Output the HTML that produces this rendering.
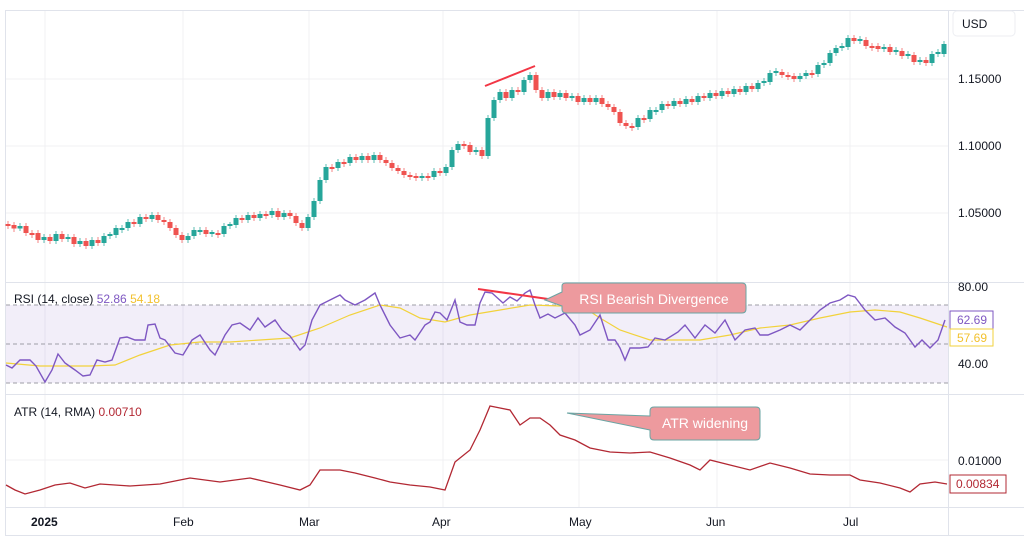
<!DOCTYPE html>
<html><head><meta charset="utf-8"><style>
html,body{margin:0;padding:0;background:#fff;width:1024px;height:545px;overflow:hidden}
svg{display:block;font-family:"Liberation Sans",sans-serif}
</style></head><body>
<svg width="1024" height="545" viewBox="0 0 1024 545" xmlns="http://www.w3.org/2000/svg">
<rect width="1024" height="545" fill="#fff"/>
<g stroke="#f0f0f3" stroke-width="1">
<line x1="45" y1="10" x2="45" y2="507"/><line x1="183" y1="10" x2="183" y2="507"/><line x1="309" y1="10" x2="309" y2="507"/><line x1="443" y1="10" x2="443" y2="507"/><line x1="579" y1="10" x2="579" y2="507"/><line x1="717" y1="10" x2="717" y2="507"/><line x1="850" y1="10" x2="850" y2="507"/>
<line x1="6" y1="79" x2="948" y2="79"/><line x1="6" y1="146" x2="948" y2="146"/><line x1="6" y1="213" x2="948" y2="213"/>
<line x1="6" y1="460" x2="948" y2="460"/>
</g>
<rect x="6" y="305" width="942" height="78" fill="#7e57c2" fill-opacity="0.1"/>
<g stroke="#9e9ea6" stroke-dasharray="4,3" stroke-width="1">
<line x1="6" y1="305" x2="948" y2="305"/><line x1="6" y1="344" x2="948" y2="344"/><line x1="6" y1="383" x2="948" y2="383"/>
</g>
<g stroke="#e0e3eb" stroke-width="1" fill="none">
<line x1="5.5" y1="10" x2="5.5" y2="536"/>
<line x1="948.5" y1="10" x2="948.5" y2="536"/>
<line x1="5" y1="10.5" x2="1024" y2="10.5"/>
<line x1="5" y1="282.5" x2="1024" y2="282.5"/>
<line x1="5" y1="394.5" x2="1024" y2="394.5"/>
<line x1="5" y1="507.5" x2="1024" y2="507.5"/>
<line x1="5" y1="535.5" x2="1024" y2="535.5"/>
</g>
<!-- green candles -->
<path fill="none" stroke="#26a69a" stroke-opacity="0.75" stroke-width="1" d="M20,223V231 M44,234V243 M56,231V244 M68,234V242 M80,238V247 M92,237V249 M104,233V246 M110,232V239 M116,225V238 M122,225V233 M128,219V231 M140,214V227 M152,212V222 M188,233V243 M194,227V239 M200,227V235 M212,230V237 M224,223V237 M230,222V229 M236,215V228 M248,212V223 M260,211V221 M272,208V218 M284,210V220 M308,214V231 M314,198V220 M320,177V204 M326,164V183 M338,159V171 M350,154V166 M362,153V163 M374,152V163 M422,173V181 M434,168V180 M446,164V176 M452,147V170 M458,141V153 M476,147V155 M488,115V159 M494,97V121 M500,89V103 M512,87V101 M524,77V95 M530,72V83 M548,89V101 M560,90V100 M572,93V101 M584,95V105 M596,95V105 M638,115V130 M650,107V122 M656,107V115 M662,101V113 M674,98V109 M686,96V107 M698,93V105 M710,90V101 M722,88V99 M734,86V97 M746,83V95 M758,80V92 M764,78V86 M770,70V85 M776,68V76 M800,73V82 M806,70V79 M818,62V77 M824,60V68 M830,50V66 M836,45V56 M842,43V51 M848,35V50 M860,36V44 M884,44V52 M896,47V55 M908,51V59 M920,57V65 M932,51V66 M938,49V57 M944,41V57"/>
<path fill="none" stroke="#26a69a" stroke-width="5" d="M20,228.5V226 M44,240V237 M56,241V234 M68,239V237 M80,244V241 M92,246V240 M104,243V236 M110,236V234 M116,235V228 M122,230V228 M128,228V222 M140,224V217 M152,219V215 M188,240V236 M194,236V230 M200,232V230 M212,234V232 M224,234V226 M230,226V224 M236,225V218 M248,220V215 M260,218V214 M272,215V211 M284,217V213 M308,228V217 M314,217V201 M320,201V180 M326,180V167 M338,168V162 M350,163V157 M362,160V156 M374,160V155 M422,178V176 M434,177V171 M446,173V167 M452,167V150 M458,150V144 M476,152V150 M488,156V118 M494,118V100 M500,100V92 M512,98V90 M524,92V80 M530,80V75 M548,98V92 M560,97V93 M572,98V96 M584,102V98 M596,102V98 M638,127V118 M650,119V110 M656,112V110 M662,110V104 M674,106V101 M686,104V99 M698,102V96 M710,98V93 M722,96V91 M734,94V89 M746,92V86 M758,89V83 M764,83V81 M770,82V73 M776,73V71 M800,79V76 M806,76V73 M818,74V65 M824,65V63 M830,63V53 M836,53V48 M842,48V46 M848,47V38 M860,41V39 M884,49V47 M896,52V50 M908,56V54 M920,62V60 M932,63V54 M938,54V52 M944,54V44"/>
<!-- red candles -->
<path fill="none" stroke="#ef5350" stroke-opacity="0.7" stroke-width="1" d="M8,221V229 M14,222V232 M26,223V236 M32,230V238 M38,230V243 M50,234V244 M62,231V242 M74,234V247 M86,238V249 M98,237V246 M134,219V227 M146,214V222 M158,212V223 M164,217V225 M170,219V231 M176,225V238 M182,232V243 M206,227V237 M218,230V238 M242,215V223 M254,212V221 M266,211V219 M278,208V220 M290,210V219 M296,213V226 M302,220V231 M332,164V172 M344,159V167 M356,154V163 M368,153V163 M380,152V163 M386,157V166 M392,160V171 M398,165V174 M404,168V178 M410,172V180 M416,173V181 M428,173V181 M440,168V176 M464,141V149 M470,142V155 M482,147V159 M506,89V101 M518,87V95 M536,72V93 M542,87V101 M554,89V100 M566,90V101 M578,93V105 M590,95V105 M602,95V107 M608,101V110 M614,104V115 M620,109V126 M626,120V129 M632,123V131 M644,115V123 M668,101V109 M680,98V107 M692,96V105 M704,93V101 M716,90V99 M728,88V97 M740,86V95 M752,83V92 M782,69V78 M788,72V80 M794,73V82 M812,70V78 M854,35V44 M866,37V49 M872,43V51 M878,43V52 M890,44V55 M902,48V59 M914,52V65 M926,57V66"/>
<path fill="none" stroke="#ef5350" stroke-width="5" d="M8,224V226 M14,225V228.5 M26,226V233 M32,233V235 M38,233V240 M50,237V241 M62,234V239 M74,237V244 M86,241V246 M98,240V243 M134,222V224 M146,217V219 M158,215V220 M164,220V222 M170,222V228 M176,228V235 M182,235V240 M206,230V234 M218,233V235 M242,218V220 M254,215V218 M266,214V216 M278,211V217 M290,213V216 M296,216V223 M302,223V228 M332,167V169 M344,162V164 M356,157V160 M368,156V160 M380,155V160 M386,160V163 M392,163V168 M398,168V171 M404,171V175 M410,175V177 M416,176V178 M428,176V178 M440,171V173 M464,144V146 M470,145V152 M482,150V156 M506,92V98 M518,90V92 M536,75V90 M542,90V98 M554,92V97 M566,93V98 M578,96V102 M590,98V102 M602,98V104 M608,104V107 M614,107V112 M620,112V123 M626,123V126 M632,126V128 M644,118V120 M668,104V106 M680,101V104 M692,99V102 M704,96V98 M716,93V96 M728,91V94 M740,89V92 M752,86V89 M782,72V75 M788,75V77 M794,76V79 M812,73V75 M854,38V41 M866,40V46 M872,46V48 M878,46V49 M890,47V52 M902,51V56 M914,55V62 M926,60V63"/>
<polyline fill="none" stroke="#f2d23b" stroke-width="1.2" points="6,363 40,366 90,366 115,365 140,355 170,345 200,342 230,342 260,340 290,338 320,328 350,315 380,305 400,308 420,318 445,322 470,315 500,310 530,305 560,306 580,305 600,318 620,330 650,340 680,340 700,340 730,335 760,328 790,325 820,318 850,312 875,310 900,312 920,318 947,327"/>
<polyline fill="none" stroke="#7e57c2" stroke-width="1.4" points="6,365 12,368 20,360 30,360 36,366 45,382 52,370 58,354 65,363 75,370 83,376 90,375 97,360 105,362 112,360 120,338 127,337 135,340 145,340 148,325 155,324 160,338 165,340 175,353 183,355 192,340 200,335 210,350 215,355 225,335 232,325 240,323 250,330 258,318 265,327 275,320 282,330 290,336 295,343 300,350 305,345 312,320 320,305 330,300 340,295 345,300 355,305 365,300 375,293 380,305 390,325 400,338 410,335 415,340 425,325 430,322 435,312 440,313 447,320 455,300 460,322 467,325 475,325 480,303 485,292 492,293 503,303 510,297 517,301 525,293 530,290 535,305 540,318 548,314 555,318 565,313 575,325 580,335 590,330 600,315 608,340 615,340 620,348 625,360 630,348 640,348 648,347 655,338 665,340 678,332 685,325 695,338 705,325 715,333 725,320 735,340 745,330 755,328 760,335 768,335 780,330 790,325 800,330 810,320 820,310 830,303 840,300 848,295 855,297 865,310 875,320 885,318 895,327 905,333 915,347 922,340 930,348 938,340 945,320"/>
<polyline fill="none" stroke="#b22833" stroke-width="1.3" points="6,485 15,490 25,494 40,490 55,485 70,483 85,488 100,484 130,486 160,484 190,478 220,482 250,478 280,485 300,490 310,485 320,470 340,470 355,473 375,478 390,482 410,485 430,487 445,490 455,462 470,450 480,430 490,406 500,408 510,410 520,425 530,418 540,418 550,425 560,435 575,440 590,448 610,452 630,453 650,452 670,458 690,465 700,470 710,460 730,465 750,470 770,463 790,468 810,474 830,475 850,475 860,480 880,483 900,488 910,492 920,484 935,482 947,484"/>
<line x1="485" y1="86" x2="535" y2="66" stroke="#f23645" stroke-width="2"/>
<line x1="478" y1="289" x2="548" y2="299" stroke="#f23645" stroke-width="2"/>
<path d="M545,300 L562,292 L562,286 Q562,283 566,283 L742,283 Q746,283 746,287 L746,309 Q746,313 742,313 L566,313 Q562,313 562,309 L562,306 Z" fill="#ed9a9e" stroke="#6aa4a3" stroke-width="1"/>
<text x="654" y="304" font-size="14" fill="#fff" text-anchor="middle">RSI Bearish Divergence</text>
<path d="M567,413 L650,416 L650,411 Q650,407 654,407 L756,407 Q760,407 760,411 L760,436 Q760,440 756,440 L654,440 Q650,440 650,436 L650,430 Z" fill="#ed9a9e" stroke="#6aa4a3" stroke-width="1"/>
<text x="705" y="428" font-size="14" fill="#fff" text-anchor="middle">ATR widening</text>
<text x="14" y="303" font-size="12" fill="#131722">RSI (14, close) <tspan fill="#7e57c2">52.86</tspan> <tspan fill="#f2c12e">54.18</tspan></text>
<text x="14" y="416" font-size="12" fill="#131722">ATR (14, RMA) <tspan fill="#b22833">0.00710</tspan></text>
<rect x="953" y="11" width="62" height="25" rx="4" fill="#fff" stroke="#eceef2"/>
<text x="962" y="28" font-size="12" fill="#131722">USD</text>
<g font-size="12" fill="#131722">
<text x="958" y="83">1.15000</text><text x="958" y="150">1.10000</text><text x="958" y="217">1.05000</text>
<text x="958" y="291">80.00</text><text x="958" y="368">40.00</text>
<text x="958" y="465">0.01000</text>
</g>
<rect x="950" y="311" width="43" height="18" fill="#fff" stroke="#7e57c2"/>
<text x="957" y="324" font-size="12" fill="#7e57c2">62.69</text>
<rect x="950" y="329" width="43" height="17" fill="#fff" stroke="#f2d23b"/>
<text x="957" y="342" font-size="12" fill="#f2c12e">57.69</text>
<rect x="950" y="475" width="56" height="18" fill="#fff" stroke="#b22833"/>
<text x="956" y="488" font-size="12" fill="#b22833">0.00834</text>
<g font-size="12" fill="#131722">
<text x="31" y="526" font-weight="bold">2025</text>
<text x="173" y="526">Feb</text><text x="299" y="526">Mar</text><text x="432" y="526">Apr</text>
<text x="569" y="526">May</text><text x="706" y="526">Jun</text><text x="843" y="526">Jul</text>
</g>
</svg>
</body></html>
